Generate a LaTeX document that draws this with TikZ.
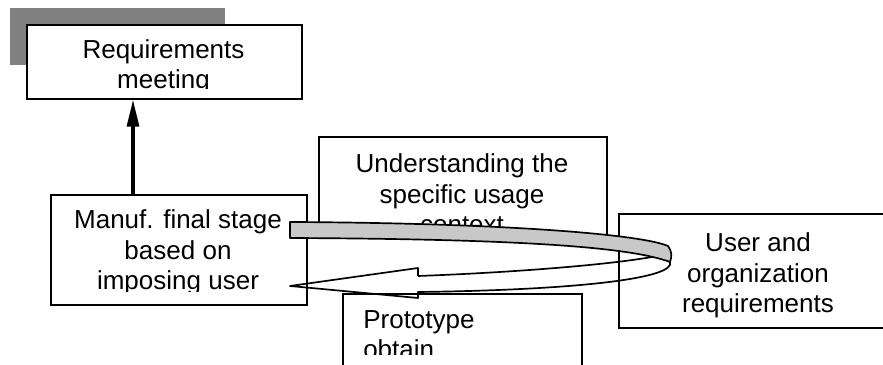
\documentclass[tikz,border=0pt]{standalone}
\usepackage{fontspec}
\setmainfont{Liberation Sans}
\usetikzlibrary{arrows.meta}
\definecolor{bandgray}{RGB}{200,200,200}

\begin{document}
\begin{tikzpicture}[
  x=0.025cm, y=-0.025cm,
  box/.style 2 args={rectangle, draw, line width=1.3pt, fill=white, inner sep=0pt, anchor=north west, minimum width=#1*0.025cm, minimum height=#2*0.025cm},
  lbl/.style={inner sep=0pt, align=center, anchor=base, font=\fontsize{18.5}{22}\selectfont},
  arrow/.style={-{Triangle[length=19pt, width=8.5pt]}, line width=2.2pt},
  ribbon/.style={line width=1.2pt, line join=round}
]
  \clip (0,0) rectangle (883,365);
  \fill[gray] (10,8) rectangle (225,65);

  % boxes
  \node[box={275}{74}] (req) at (26,24) {};
  \node[box={256}{110}] (manuf) at (50,194) {};
  \node[box={288}{98}] (ctx) at (318,136) {};
  \node[box={280}{114}] (user) at (618,213) {};
  \node[box={239}{100}] (proto) at (342,293) {};

  % texts (base = last line)
  \begin{scope}
    \clip (req.north west) rectangle ([yshift=0.275cm]req.south east);
    \node[lbl] (reqtxt) at (163.5,89) {Requirements\\meeting};
  \end{scope}
  \begin{scope}
    \clip (manuf.north west) rectangle ([yshift=0.35cm]manuf.south east);
    \node[lbl] (manuftxt) at (178,290) {Manuf. final stage\\based on\\imposing user};
  \end{scope}
  \node[lbl] (ctxtxt) at (462,234) {Understanding the\\specific usage\\context};
  \node[lbl] (usertxt) at (758,313) {User and\\organization\\requirements};
  \begin{scope}
    \clip (342,293) rectangle (581,355);
    \node[lbl, anchor=base west, align=left] (prototxt) at (363,359) {Prototype\\obtain};
  \end{scope}

  \coordinate (upx) at (133,0);
  \draw[arrow] (manuf.north -| upx) -- (req.south -| upx);

  % curved ribbon arrow
  \draw[ribbon] (418,276) -- (418,268) -- (290,286) -- (418,298) -- (418,292)
    .. controls (580,290) and (676,278) .. (670,262);
  \draw[ribbon] (652,257) .. controls (600,266) and (500,273) .. (418,276);
  \filldraw[ribbon, fill=bandgray] (290,222) .. controls (500,223) and (640,234) .. (668,246)
    .. controls (672,251) and (672,257) .. (670,262)
    .. controls (630,247) and (520,239) .. (290,238) -- cycle;
\end{tikzpicture}
\end{document}
